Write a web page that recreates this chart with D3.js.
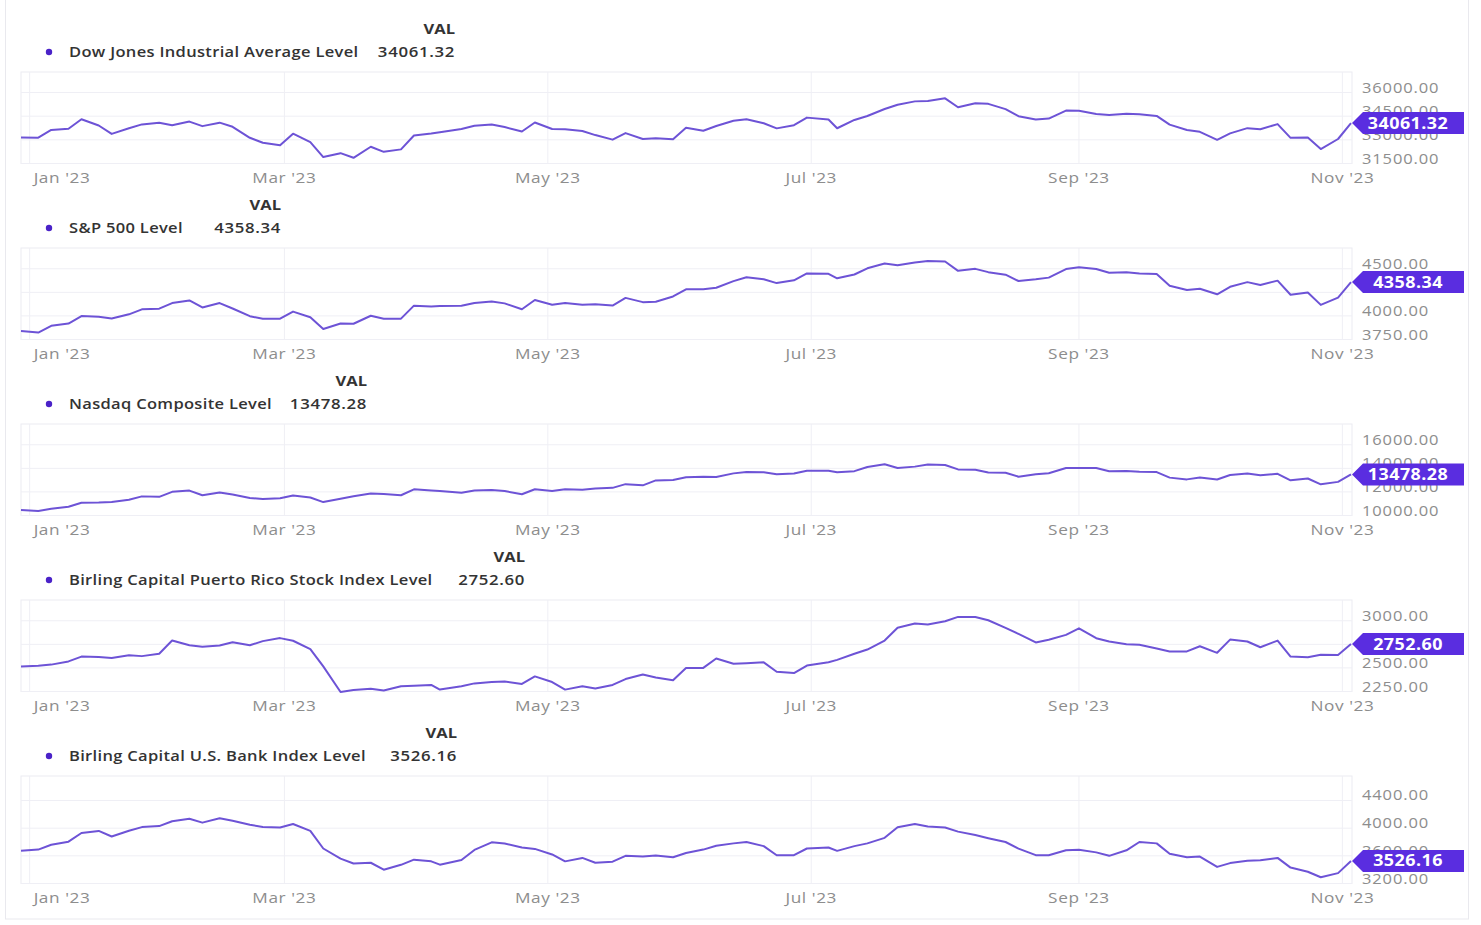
<!DOCTYPE html>
<html>
<head>
<meta charset="utf-8">
<title>Index Levels 2023</title>
<style>
  body { margin: 0; background: #fff; }
  svg text { font-family: "Open Sans", sans-serif; }
</style>
</head>
<body>
<script src="https://d3js.org/d3.v7.min.js"></script>
<script>
// sample dates (Tuesdays and Fridays, nearest trading day)
var dates = ["2022-12-30","2023-01-03","2023-01-06","2023-01-10","2023-01-13","2023-01-17","2023-01-20","2023-01-24","2023-01-27","2023-01-31",
  "2023-02-03","2023-02-07","2023-02-10","2023-02-14","2023-02-17","2023-02-21","2023-02-24","2023-02-28","2023-03-03","2023-03-07",
  "2023-03-10","2023-03-14","2023-03-17","2023-03-21","2023-03-24","2023-03-28","2023-03-31","2023-04-04","2023-04-06","2023-04-11",
  "2023-04-14","2023-04-18","2023-04-21","2023-04-25","2023-04-28","2023-05-02","2023-05-05","2023-05-09","2023-05-12","2023-05-16",
  "2023-05-19","2023-05-23","2023-05-26","2023-05-30","2023-06-02","2023-06-06","2023-06-09","2023-06-13","2023-06-16","2023-06-20",
  "2023-06-23","2023-06-27","2023-06-30","2023-07-05","2023-07-07","2023-07-11","2023-07-14","2023-07-18","2023-07-21","2023-07-25",
  "2023-07-28","2023-08-01","2023-08-04","2023-08-08","2023-08-11","2023-08-15","2023-08-18","2023-08-22","2023-08-25","2023-08-29",
  "2023-09-01","2023-09-05","2023-09-08","2023-09-12","2023-09-15","2023-09-19","2023-09-22","2023-09-26","2023-09-29","2023-10-03",
  "2023-10-06","2023-10-10","2023-10-13","2023-10-17","2023-10-20","2023-10-24","2023-10-27","2023-10-31","2023-11-03"];

var dowValues = [33147,33136,33631,33704,34303,33910,33375,33734,33978,34086,
  33926,34156,33869,34089,33827,33130,32817,32657,33391,32856,
  31910,32155,31862,32561,32238,32395,33274,33403,33486,33685,
  33887,33977,33809,33531,34098,33684,33675,33562,33301,33013,
  33427,33056,33093,33043,33763,33573,33877,34212,34299,34054,
  33727,33927,34408,34288,33734,34262,34509,34952,35228,35438,
  35459,35630,35065,35315,35281,34946,34500,34289,34347,34853,
  34838,34642,34577,34646,34618,34518,33964,33619,33508,33002,
  33408,33740,33670,33998,33127,33141,32418,33053,34061.32];

var spxValues = [3839,3824,3895,3919,3999,3991,3973,4017,4070,4077,
  4136,4164,4090,4136,4079,3997,3970,3970,4046,3986,
  3862,3920,3917,4002,3971,3971,4109,4100,4105,4108,
  4138,4154,4133,4071,4169,4119,4136,4119,4124,4110,
  4191,4146,4151,4206,4282,4283,4299,4369,4410,4389,
  4348,4378,4450,4446,4399,4439,4505,4555,4536,4567,
  4582,4577,4478,4499,4464,4437,4370,4388,4406,4497,
  4516,4497,4457,4462,4450,4444,4320,4274,4288,4229,
  4309,4358,4327,4374,4224,4248,4117,4194,4358.34];

var nasdaqValues = [10466,10386,10569,10743,11079,11095,11140,11334,11622,11585,
  12007,12114,11718,11960,11787,11492,11395,11456,11689,11530,
  11139,11428,11630,11860,11824,11716,12222,12126,12088,11929,
  12123,12153,12073,11799,12227,12081,12235,12180,12285,12344,
  12658,12560,12976,13018,13241,13276,13259,13573,13690,13667,
  13492,13556,13788,13792,13661,13760,14114,14353,14033,14145,
  14317,14283,13909,13884,13645,13631,13291,13505,13590,14031,
  14031,14021,13761,13773,13708,13679,13212,13063,13219,13059,
  13431,13562,13407,13533,12984,13139,12643,12851,13478.28];

var prValues = [2516,2523,2535,2569,2620,2615,2605,2635,2625,2650,
  2790,2740,2725,2737,2773,2740,2784,2816,2788,2700,
  2516,2245,2265,2280,2260,2305,2310,2320,2270,2305,
  2336,2350,2355,2330,2410,2350,2270,2305,2282,2320,
  2382,2430,2398,2370,2500,2500,2600,2545,2550,2559,
  2460,2445,2525,2560,2585,2650,2695,2790,2925,2970,
  2960,2995,3041,3040,3005,2925,2860,2770,2798,2850,
  2920,2815,2780,2750,2745,2705,2673,2675,2730,2660,
  2800,2780,2719,2790,2620,2612,2640,2638,2752.60];

var bankValues = [3672,3690,3760,3805,3930,3960,3880,3962,4015,4030,
  4100,4135,4080,4143,4108,4050,4018,4010,4060,3960,
  3706,3560,3490,3500,3400,3470,3545,3520,3472,3540,
  3685,3795,3778,3720,3700,3620,3520,3570,3500,3515,
  3600,3590,3605,3580,3640,3690,3745,3780,3800,3740,
  3609,3609,3706,3720,3672,3740,3780,3860,4013,4060,
  4025,4010,3950,3900,3855,3800,3705,3610,3609,3680,
  3688,3650,3600,3680,3800,3780,3630,3580,3590,3440,
  3495,3530,3535,3570,3430,3370,3290,3350,3526.16];

var seriesNames = ["Dow Jones Industrial Average Level", "S&P 500 Level", "Nasdaq Composite Level",
  "Birling Capital Puerto Rico Stock Index Level", "Birling Capital U.S. Bank Index Level"];
var lastLabels = ["34061.32", "4358.34", "13478.28", "2752.60", "3526.16"];
var yTicks = [[31500, 33000, 34500, 36000], [3750, 4000, 4250, 4500], [10000, 12000, 14000, 16000],
  [2250, 2500, 2750, 3000], [3200, 3600, 4000, 4400]];
var yTops = [37300, 4720, 17760, 3220, 4754];
var xTicks = ["2023-01-01", "2023-03-01", "2023-05-01", "2023-07-01", "2023-09-01", "2023-11-01"];
var xTickLabels = ["Jan '23", "Mar '23", "May '23", "Jul '23", "Sep '23", "Nov '23"];

var allValues = [dowValues, spxValues, nasdaqValues, prValues, bankValues];

var parse = d3.timeParse("%Y-%m-%d");
var dateObjs = dates.map(parse);
var tickDates = xTicks.map(parse);

var W = 1481, H = 925;
var plotTop    = [72, 248, 424, 600, 776],
    plotBottom = [163.5, 339.5, 515.5, 691.5, 883.5];
var plotLeft = 21, plotRight = 1351;

var lineColor = "#6d53d6", badgeColor = "#5a2de0";

// the source text is drawn a little wide, so stretch glyphs horizontally
function place(sel, fx, fy, sx) {
  return sel.attr("transform", function(d, k) {
    var px = typeof fx === "function" ? fx(d, k) : fx,
        py = typeof fy === "function" ? fy(d, k) : fy;
    return "translate(" + px + "," + py + ") scale(" + sx + ",1)";
  });
}

var svg = d3.select("body").append("svg")
  .attr("width", W).attr("height", H);

svg.append("rect")
  .attr("x", 5.5).attr("y", -1).attr("width", 1463).attr("height", 920)
  .attr("fill", "#fff").attr("stroke", "#e9e9ee");

var x = d3.scaleTime()
  .domain([parse("2022-12-30"), parse("2023-11-03")])
  .range([plotLeft, plotRight]);

allValues.forEach(function(vals, i) {
  var top = plotTop[i], bottom = plotBottom[i];
  var y = d3.scaleLinear().domain([yTicks[i][0], yTops[i]]).range([bottom, top]);
  var g = svg.append("g");

  // header
  var valX = [455, 281, 367, 525, 457][i];
  place(g.append("text"), valX, top - 38, 1.1)
    .attr("text-anchor", "end").attr("font-size", "15px").attr("font-weight", 700)
    .attr("fill", "#333").text("VAL");
  g.append("circle").attr("cx", 49).attr("cy", top - 20).attr("r", 3.2).attr("fill", "#4a22c8");
  place(g.append("text"), 69, top - 15, 1.1)
    .attr("font-size", "15px").attr("font-weight", 600).attr("fill", "#333")
    .attr("letter-spacing", "0.3px")
    .text(seriesNames[i]);
  place(g.append("text"), valX, top - 15, 1.12)
    .attr("text-anchor", "end").attr("font-size", "15px").attr("font-weight", 600)
    .attr("fill", "#333").attr("letter-spacing", "0.6px").text(lastLabels[i]);

  // plot frame and grid
  g.append("rect").attr("x", plotLeft).attr("y", top)
    .attr("width", plotRight - plotLeft + 1).attr("height", bottom - top)
    .attr("fill", "none").attr("stroke", "#ebebf2");
  g.selectAll(".hg").data(yTicks[i]).enter().append("line")
    .attr("x1", plotLeft).attr("x2", plotRight + 1)
    .attr("y1", function(d) { return y(d); }).attr("y2", function(d) { return y(d); })
    .attr("stroke", "#efeff5");
  g.selectAll(".vg").data(tickDates).enter().append("line")
    .attr("x1", function(d) { return x(d); }).attr("x2", function(d) { return x(d); })
    .attr("y1", top).attr("y2", bottom)
    .attr("stroke", "#efeff5");

  // x labels
  place(g.selectAll(".xl").data(tickDates).enter().append("text"),
      function(d, k) { return k === 0 ? x(d) + 4 : x(d); }, bottom + 19.5, 1.15)
    .attr("text-anchor", function(d, k) { return k === 0 ? "start" : "middle"; })
    .attr("font-size", "15px").attr("fill", "#8d8d8d").attr("letter-spacing", "0.5px")
    .text(function(d, k) { return xTickLabels[k]; });

  // y labels
  place(g.selectAll(".yl").data(yTicks[i]).enter().append("text"),
      1362, function(d) { return y(d); }, 1.1)
    .attr("font-size", "15px").attr("fill", "#8d8d8d").attr("letter-spacing", "0.8px")
    .text(function(d) { return d.toFixed(2); });

  // line
  var line = d3.line()
    .x(function(d, k) { return x(dateObjs[k]); })
    .y(function(d) { return y(d); });
  g.append("path").datum(vals)
    .attr("d", line).attr("fill", "none")
    .attr("stroke", lineColor).attr("stroke-width", 2).attr("stroke-linejoin", "round");

  // last value badge
  var lx = x(dateObjs[dateObjs.length - 1]) + 1, ly = y(vals[vals.length - 1]);
  g.append("path")
    .attr("d", "M" + lx + "," + ly + "L" + (lx + 11) + "," + (ly - 11) + "H" + 1464 +
      "V" + (ly + 11) + "H" + (lx + 11) + "Z")
    .attr("fill", badgeColor);
  place(g.append("text"), 1408, ly + 5.5, 1.12)
    .attr("text-anchor", "middle").attr("font-size", "16px").attr("font-weight", 700)
    .attr("fill", "#fff").attr("letter-spacing", "0.4px").text(lastLabels[i]);
});
</script>
</body>
</html>
